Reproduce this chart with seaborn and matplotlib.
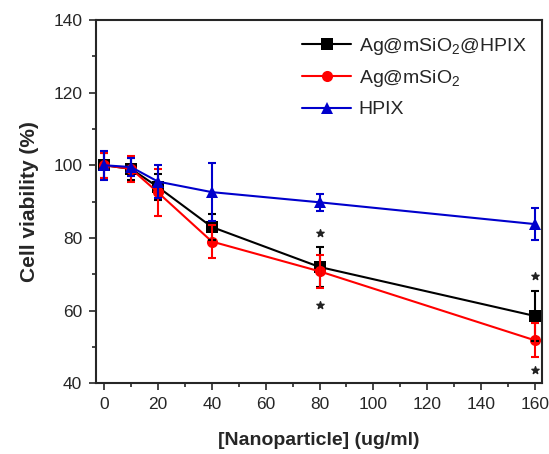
import numpy as np
import pandas as pd
import seaborn as sns
import matplotlib.pyplot as plt

# concentrations (ug/ml)
conc = [0, 10, 20, 40, 80, 160]

# cell viability (%) and error bars per formulation
ag_si_hpix = [100.0, 99.0, 94.0, 83.0, 72.0, 58.5]
ag_si_hpix_err = [3.5, 3.0, 3.5, 3.5, 5.5, 7.0]
ag_si = [100.0, 99.0, 92.5, 79.0, 70.8, 51.8]
ag_si_err = [3.5, 3.5, 6.5, 4.5, 4.5, 4.7]
hpix = [100.0, 99.5, 95.5, 92.6, 89.8, 83.8]
hpix_err = [4.0, 2.5, 4.5, 8.0, 2.3, 4.5]

labels = [r'Ag@mSiO$_2$@HPIX', r'Ag@mSiO$_2$', 'HPIX']
colors = ['black', 'red', '#0000cc']
markers = ['s', 'o', '^']

# significance stars
star_x = [80, 80, 160, 160]
star_y = [81.3, 61.5, 69.5, 43.5]

sns.set_style('ticks')
plt.rcParams['font.family'] = ['Liberation Sans', 'DejaVu Sans']
plt.rcParams['mathtext.fontset'] = 'custom'
plt.rcParams['mathtext.rm'] = 'Liberation Sans'

df = pd.DataFrame({
    'conc': conc * 3,
    'viability': ag_si_hpix + ag_si + hpix,
    'group': [labels[0]] * 6 + [labels[1]] * 6 + [labels[2]] * 6,
})

fig = plt.figure(figsize=(5.49, 4.54), dpi=100)
ax = fig.add_axes([0.175, 0.156, 0.812, 0.80])

sns.lineplot(data=df, x='conc', y='viability', hue='group', style='group',
             hue_order=labels, style_order=labels, palette=colors,
             markers=markers, dashes=False, markersize=8, linewidth=1.5,
             markeredgewidth=0, ax=ax)

for vals, errs, c in zip([ag_si_hpix, ag_si, hpix], [ag_si_hpix_err, ag_si_err, hpix_err], colors):
    ax.errorbar(conc, vals, yerr=errs, fmt='none', ecolor=c, elinewidth=1.5,
                capsize=3, capthick=1.5)

ax.scatter(star_x, star_y, marker='*', s=30, color='#222222', zorder=5)

ax.set_xlim(-3, 162.6)
ax.set_ylim(40, 140)
ax.set_xticks(np.arange(0, 161, 20))
ax.set_xticks(np.arange(10, 161, 20), minor=True)
ax.set_yticks(np.arange(40, 141, 20))
ax.set_yticks(np.arange(50, 141, 20), minor=True)
ax.tick_params(axis='both', which='major', length=5, width=1.2, labelsize=12.5, pad=5)
ax.tick_params(axis='both', which='minor', length=3, width=1.2)
for s in ax.spines.values():
    s.set_linewidth(1.5)
    s.set_visible(True)

ax.set_xlabel('[Nanoparticle] (ug/ml)', fontsize=14, fontweight='bold', labelpad=14)
ax.set_ylabel('Cell viability (%)', fontsize=15, fontweight='bold', labelpad=10)

leg = ax.legend(loc='upper right', frameon=False, fontsize=14, handlelength=2.5,
                handletextpad=0.4, borderaxespad=0.4, labelspacing=0.6)

fig.savefig('out.png', dpi=100)
